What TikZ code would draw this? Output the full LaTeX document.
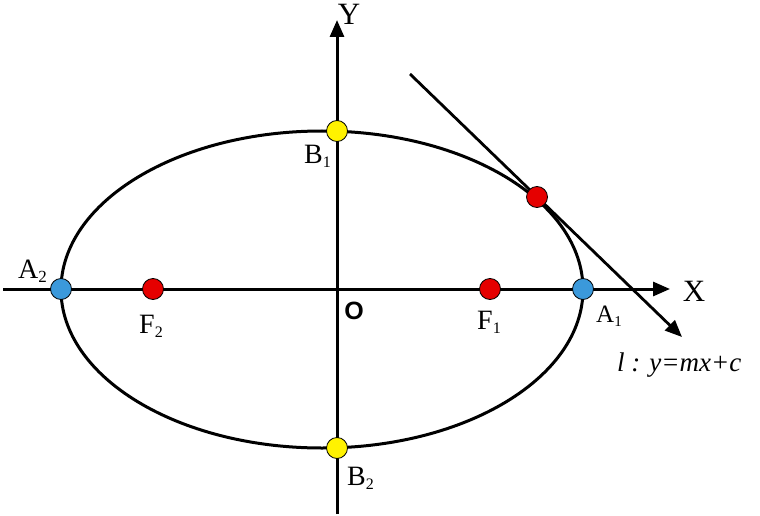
\documentclass[tikz,border=0pt]{standalone}
\usepackage{fontspec}
\setmainfont{Liberation Serif}
\setsansfont{Liberation Sans}
\usetikzlibrary{arrows.meta}
\begin{document}
\begin{tikzpicture}[x=1pt,y=-1pt,
  ln/.style={line width=3pt},
  ax/.style={line width=3pt,-{Triangle[length=17pt,width=14pt]}},
  pt/.style={circle,draw=black,line width=0.8pt,minimum size=21pt,inner sep=0pt},
  lab/.style={font=\fontsize{31}{31}\selectfont,inner sep=0pt}]
\useasboundingbox (0,0) rectangle (760,516);
\draw[ln] (322,289.5) ellipse [x radius=261, y radius=158.5];
\coordinate (xs) at (3,289); \coordinate (xe) at (670,289);
\coordinate (ys) at (337,514); \coordinate (ye) at (337,20);
\coordinate (ts) at (410,74); \coordinate (te) at (682,337);
\draw[ax] (xs) -- (xe);
\draw[ax] (ys) -- (ye);
\draw[line width=2.8pt,-{Triangle[length=17pt,width=14pt]}] (ts) -- (te);
\node[pt,fill=cyan!70!blue!80] (A2) at (61,289) {};
\node[pt,fill=cyan!70!blue!80] (A1) at (583,289) {};
\node[pt,fill=red!90!black] (F2) at (153,289) {};
\node[pt,fill=red!90!black] (F1) at (490,289) {};
\node[pt,fill=yellow] (B1) at (337,131) {};
\node[pt,fill=yellow] (B2) at (337,448) {};
\node[pt,fill=red!90!black] (P) at (537,197) {};
\node[lab] at (349,14) {Y};
\node[lab] at (694,291) {X};
\node[lab,anchor=west] at (18,271) {\fontsize{28}{28}\selectfont A\textsubscript{\fontsize{17}{17}\selectfont 2}};
\node[lab,anchor=west] at (596,316) {\fontsize{25}{25}\selectfont A\textsubscript{\fontsize{15}{15}\selectfont 1}};
\node[lab,anchor=west] at (139,326) {\fontsize{28}{28}\selectfont F\textsubscript{\fontsize{16}{16}\selectfont 2}};
\node[lab,anchor=west] at (477,322) {\fontsize{28}{28}\selectfont F\textsubscript{\fontsize{16}{16}\selectfont 1}};
\node[lab,anchor=west] at (304,156) {\fontsize{28}{28}\selectfont B\textsubscript{\fontsize{16}{16}\selectfont 1}};
\node[lab,anchor=west] at (347,478) {\fontsize{28}{28}\selectfont B\textsubscript{\fontsize{16}{16}\selectfont 2}};
\node[lab,font=\sffamily\bfseries\fontsize{25}{25}\selectfont] at (354,311) {O};
\node[lab,anchor=west,font=\itshape\fontsize{27}{27}\selectfont] at (617,365) {l : y=mx+c};
\end{tikzpicture}
\end{document}
